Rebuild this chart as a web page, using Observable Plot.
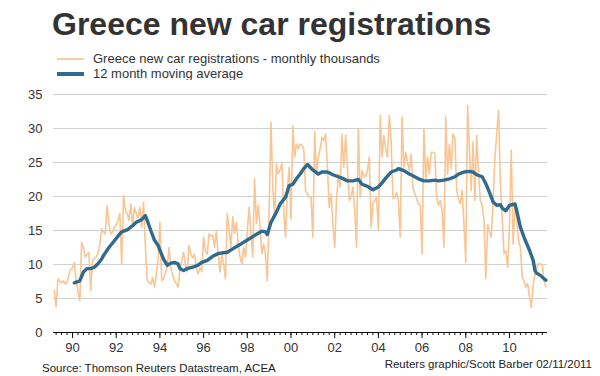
<!DOCTYPE html>
<html><head><meta charset="utf-8">
<script src="https://cdn.jsdelivr.net/npm/d3@7"></script>
<script src="https://cdn.jsdelivr.net/npm/@observablehq/plot@0.6"></script>
<style>
body{margin:0;background:#fff;}
#wrap{position:relative;width:600px;height:376px;overflow:hidden;font-family:"Liberation Sans",Arial,sans-serif;color:#333;background:#fff;}
#title{position:absolute;left:52px;top:5px;font-size:32px;font-weight:bold;line-height:38px;white-space:nowrap;color:#333;}
.leg{position:absolute;left:57px;height:15px;display:flex;align-items:center;font-size:13px;white-space:nowrap;color:#333;}
.sw{display:inline-block;width:27px;margin-right:9px;}
#chart{position:absolute;left:0;top:80px;}
.foot{position:absolute;font-size:11.5px;line-height:14px;white-space:nowrap;color:#222;}
</style></head>
<body><div id="wrap">
<div id="title">Greece new car registrations</div>
<div class="leg" style="top:51px"><span class="sw" style="border-top:2px solid #f7cf9f"></span>Greece new car registrations - monthly thousands</div>
<div class="leg" style="top:66px"><span class="sw" style="border-top:4px solid #2f6b8f"></span>12 month moving average</div>
<div id="chart"></div>
<div class="foot" style="left:42px;top:361px">Source: Thomson Reuters Datastream, ACEA</div>
<div class="foot" style="right:8px;top:357px">Reuters graphic/Scott Barber 02/11/2011</div>
</div>
<script>
// Monthly registrations (thousands), March 1989 to September 2011
const firstYear = 1989, firstMonthIndex = 2; // March 1989
const monthlyThousands = [
  6.2, 3.8, 7.9, 7.5, 7.3, 7.6, 7.1, 7.4, 8.4, 9.3,                 // 1989 Mar-Dec
  9.4, 10.3, 7.6, 6.0, 4.7, 13.3, 12.5, 11.1, 11.5, 11.8, 6.2, 10.6, // 1990
  10.8, 11.1, 11.6, 13.0, 15.2, 14.8, 14.5, 18.7, 16.0, 14.5, 14.8, 15.5, // 1991
  15.8, 16.5, 17.5, 10.1, 20.1, 18.0, 17.5, 16.5, 18.9, 15.5, 18.4, 17.5, // 1992
  16.9, 18.4, 15.5, 19.2, 13.0, 7.6, 7.4, 7.1, 8.1, 6.7, 8.5, 10.6,  // 1993
  16.2, 7.6, 7.9, 8.8, 9.6, 12.5, 9.6, 8.5, 7.6, 7.2, 6.7, 9.1,      // 1994
  10.5, 11.8, 10.0, 8.9, 12.8, 11.5, 11.0, 11.5, 9.5, 8.6, 9.5, 9.0, // 1995
  14.0, 12.0, 11.5, 14.5, 14.2, 14.3, 12.5, 15.0, 11.6, 8.9, 11.6, 10.1, // 1996
  7.9, 17.5, 15.0, 12.5, 17.0, 14.6, 16.2, 13.0, 11.1, 10.1, 12.5, 11.1, // 1997
  15.0, 18.4, 14.5, 11.1, 22.6, 16.0, 18.7, 15.5, 11.6, 13.0, 11.4, 7.6, // 1998
  17.9, 30.9, 21.4, 17.0, 24.8, 23.3, 24.0, 24.8, 17.9, 14.0, 20.9, 24.3, // 1999
  16.7, 30.4, 25.8, 27.7, 27.0, 27.7, 27.5, 27.0, 20.9, 20.4, 19.9, 19.9, // 2000
  14.0, 29.5, 23.3, 25.8, 27.0, 28.7, 28.2, 29.2, 24.3, 18.4, 20.4, 16.0, // 2001
  12.5, 19.4, 23.3, 21.4, 29.2, 24.3, 29.0, 24.0, 19.4, 19.9, 21.4, 18.0, // 2002
  12.5, 30.0, 19.9, 23.8, 23.0, 22.9, 23.8, 25.8, 15.5, 19.0, 19.4, 19.9, // 2003
  15.0, 31.9, 25.8, 29.0, 27.0, 25.8, 31.9, 28.2, 19.7, 19.9, 20.6, 19.4, // 2004
  14.0, 31.7, 24.3, 26.5, 25.0, 23.8, 26.2, 21.4, 20.4, 19.7, 18.9, 18.7, // 2005
  11.6, 30.0, 22.4, 25.8, 23.3, 26.5, 26.5, 26.3, 19.9, 18.7, 19.4, 17.9, // 2006
  12.5, 31.7, 23.3, 27.7, 24.1, 29.2, 28.6, 20.9, 19.7, 18.9, 20.9, 16.0, // 2007
  10.3, 33.4, 26.8, 20.9, 28.0, 19.4, 29.0, 23.3, 19.4, 18.7, 16.5, 7.9,  // 2008
  15.9, 14.8, 14.0, 19.4, 25.8, 29.2, 32.6, 21.9, 17.0, 11.6, 12.0, 9.6,  // 2009
  15.9, 26.8, 13.0, 18.4, 16.9, 13.5, 12.5, 8.1, 7.6, 6.7, 7.2, 5.2,      // 2010
  3.7, 7.0, 8.6, 9.6, 10.1, 10.1, 9.9, 7.6, 6.7                           // 2011 Jan-Sep
];
// 12 month moving average (months since Jan 1989)
const maMonth = [
  13, 16, 18, 20, 22, 24, 26, 28, 29, 32,
  35, 38, 39, 42, 45, 47, 50, 52, 53, 55,
  57, 59, 60, 62, 64, 66, 68, 70, 71, 73,
  75, 78, 81, 83, 86, 89, 92, 94, 97, 100,
  103, 105, 108, 111, 114, 116, 118, 119, 121, 124,
  126, 129, 131, 133, 135, 137, 139, 141, 144, 147,
  149, 152, 155, 158, 160, 163, 166, 169, 171, 174,
  177, 180, 182, 184, 187, 190, 191, 194, 197, 200,
  202, 205, 208, 211, 213, 216, 219, 222, 224, 227,
  230, 232, 234, 237, 239, 241, 243, 245, 247, 248,
  250, 252, 255, 256, 258, 260, 263, 265, 266, 267,
  269, 271, 272
];
const maValue = [
  7.3, 7.6, 8.9, 9.4, 9.4, 9.6, 10.1, 10.8, 11.3, 12.5,
  13.5, 14.5, 14.8, 15.1, 15.7, 16.2, 16.6, 17.2, 16.5, 15.0,
  13.6, 12.8, 12.1, 10.8, 9.9, 10.2, 10.3, 10.1, 9.4, 9.1,
  9.4, 9.6, 9.9, 10.3, 10.6, 11.2, 11.6, 11.7, 11.8, 12.3,
  12.8, 13.1, 13.6, 14.1, 14.6, 14.9, 14.8, 14.4, 16.2, 17.7,
  18.9, 19.9, 21.6, 21.8, 22.6, 23.3, 24.1, 24.7, 23.9, 23.3,
  23.6, 23.6, 23.2, 22.9, 22.7, 22.3, 22.3, 22.5, 21.8, 21.5,
  21.0, 21.4, 22.0, 22.7, 23.6, 23.9, 24.1, 23.8, 23.3, 22.9,
  22.6, 22.3, 22.3, 22.4, 22.3, 22.4, 22.6, 22.9, 23.3, 23.6,
  23.7, 23.6, 23.2, 22.9, 21.9, 20.6, 19.2, 18.7, 18.8, 18.3,
  17.9, 18.7, 18.9, 17.9, 15.5, 14.0, 12.1, 10.6, 9.1, 8.7,
  8.4, 7.9, 7.7
];
const yTicks = [0, 5, 10, 15, 20, 25, 30, 35];
const xLabelYears = [1990, 1992, 1994, 1996, 1998, 2000, 2002, 2004, 2006, 2008, 2010];
const quarterTicks = d3.range(1989.25, 2011.74, 0.25);

const monthly = monthlyThousands.map((v, i) => ({t: firstYear + (firstMonthIndex + i) / 12, v}));
const ma = maMonth.map((m, i) => ({t: firstYear + m / 12, v: maValue[i]}));

const chart = Plot.plot({
  width: 600,
  height: 285,
  marginTop: 14,
  marginBottom: 33,
  marginLeft: 53,
  marginRight: 53,
  style: {fontFamily: "Liberation Sans, Arial, sans-serif", fontSize: "13px", color: "#333", background: "white"},
  x: {domain: [1989.13, 2011.74]},
  y: {domain: [0, 35]},
  marks: [
    Plot.gridY(yTicks.filter(d => d > 0), {stroke: "#d0d0d0", strokeOpacity: 1, strokeWidth: 1}),
    Plot.axisY(yTicks, {tickSize: 0, tickPadding: 11, fontSize: 13, fill: "#333", label: null}),
    Plot.line(monthly, {x: "t", y: "v", stroke: "#f8c593", strokeWidth: 1.6, strokeLinejoin: "round"}),
    Plot.line(ma, {x: "t", y: "v", stroke: "#2f6b8f", strokeWidth: 3.4, strokeLinejoin: "round", strokeLinecap: "round"}),
    Plot.ruleY([0], {stroke: "#111", strokeWidth: 1}),
    Plot.axisX(quarterTicks, {tickSize: 3, tickFormat: () => "", stroke: "#111", label: null}),
    Plot.axisX(xLabelYears, {tickSize: 6, tickPadding: 4, fontSize: 13, fill: "#333", stroke: "#111", label: null,
      tickFormat: d => String(d % 100).padStart(2, "0")})
  ]
});
document.getElementById("chart").appendChild(chart);
</script>
</body></html>
